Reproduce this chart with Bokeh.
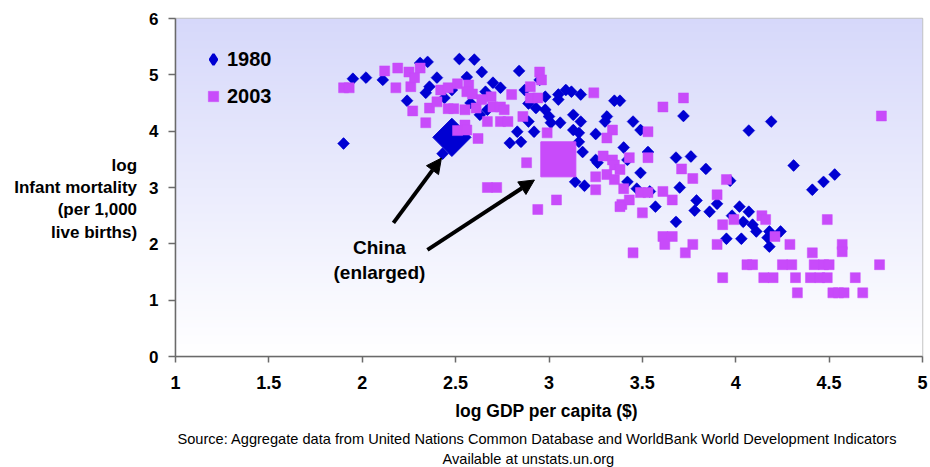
import numpy as np
from bokeh.plotting import figure
from bokeh.models import (Range1d, FixedTicker, Label, Arrow, NormalHead,
                          Legend, LegendItem, Title)
from bokeh.embed import file_html
from bokeh.resources import INLINE

# ---------------- data (log GDP per capita, log infant mortality) ----------------
gdp_1980 = [1.90, 1.95, 2.02, 2.11, 2.24, 2.31, 2.35, 2.40, 2.36, 2.34, 2.44, 2.52,
            2.60, 2.64, 2.56, 2.66, 2.63, 2.67, 2.43, 2.70, 2.74, 2.84, 2.87, 2.89,
            2.93, 2.83, 2.79, 2.85, 2.92, 2.89, 2.95, 2.98, 2.98, 3.00, 3.01, 3.06,
            3.05, 3.05, 3.09, 3.12, 3.17, 3.13, 3.17, 3.13, 3.16, 3.16, 3.18, 3.25,
            3.31, 3.30, 3.35, 3.38, 3.45, 3.49, 3.40, 3.42, 3.49, 3.25, 3.26, 3.14,
            3.19, 3.53, 3.47, 3.54, 3.42, 3.68, 3.76, 3.84, 3.72, 4.07, 4.19, 4.31,
            4.47, 4.53, 4.41, 3.97, 3.70, 3.79, 3.78, 3.86, 3.90, 3.68, 3.95, 4.03,
            4.02, 3.98, 4.07, 4.04, 4.09, 4.11, 4.18, 4.24, 4.17, 4.18, 3.57, 2.48,
            2.58]
imr_1980 = [3.78, 4.93, 4.95, 4.91, 4.54, 5.21, 5.23, 4.95, 4.79, 4.68, 4.59, 5.28,
            5.27, 5.05, 4.96, 4.70, 4.29, 4.38, 3.60, 4.86, 4.77, 5.07, 4.73, 4.49,
            4.41, 3.99, 3.79, 3.81, 3.99, 4.17, 4.91, 4.61, 4.38, 4.26, 4.15, 4.15,
            4.65, 4.56, 4.73, 4.70, 4.65, 4.29, 4.17, 4.02, 3.97, 3.81, 3.63, 3.95,
            4.26, 4.17, 4.54, 4.54, 4.17, 4.02, 3.71, 3.49, 3.26, 3.49, 3.44, 3.10,
            3.03, 3.63, 2.98, 2.93, 3.10, 3.53, 3.55, 3.33, 4.27, 4.01, 4.17, 3.39,
            3.10, 3.23, 2.96, 3.12, 3.00, 2.77, 2.59, 2.57, 2.71, 2.39, 2.09, 2.09,
            2.66, 2.50, 2.57, 2.39, 2.34, 2.22, 2.22, 2.22, 2.11, 1.95, 2.66, 4.73,
            4.50]

gdp_2003 = [1.90, 1.93, 2.12, 2.19, 2.25, 2.31, 2.18, 2.26, 2.28, 2.27, 2.34, 2.36,
            2.40, 2.42, 2.46, 2.51, 2.57, 2.46, 2.49, 2.55, 2.61, 2.56, 2.59, 2.51,
            2.55, 2.56, 2.62, 2.67, 2.69, 2.64, 2.80, 2.86, 2.74, 2.78, 2.70, 2.74,
            2.76, 2.90, 2.95, 2.96, 2.90, 2.94, 2.88, 2.67, 2.72, 2.99, 3.24, 3.34,
            3.31, 3.29, 3.34, 3.35, 3.38, 3.43, 3.53, 3.53, 3.31, 3.25, 3.61, 3.72,
            3.71, 3.77, 3.95, 4.78, 3.04, 2.94, 3.25, 3.40, 3.39, 3.43, 3.49, 3.53,
            3.50, 3.61, 3.66, 3.90, 3.61, 3.66, 3.62, 3.45, 3.73, 3.77, 3.90, 3.93,
            3.99, 4.14, 4.16, 4.21, 4.29, 4.06, 4.09, 3.93, 4.15, 4.20, 4.25, 4.30,
            4.32, 4.33, 4.41, 4.40, 4.42, 4.47, 4.50, 4.45, 4.49, 4.49, 4.57, 4.57,
            4.64, 4.52, 4.55, 4.58, 4.68, 4.77, 3.38, 3.35]
imr_2003 = [4.77, 4.77, 5.07, 5.12, 5.05, 5.12, 4.77, 4.79, 4.95, 4.36, 4.15, 4.41,
            4.52, 4.73, 4.77, 4.84, 4.82, 4.40, 4.40, 4.38, 4.41, 4.70, 4.66, 4.01,
            4.11, 4.02, 3.87, 4.17, 4.61, 4.56, 4.65, 4.26, 4.17, 4.17, 4.43, 4.43,
            4.38, 4.79, 5.05, 4.91, 4.59, 4.59, 3.44, 3.00, 3.00, 3.97, 4.68, 4.02,
            3.88, 3.56, 3.49, 3.40, 3.32, 3.53, 3.53, 3.99, 3.23, 3.19, 4.43, 4.59,
            3.33, 3.16, 3.14, 4.27, 2.78, 2.61, 2.96, 2.98, 2.70, 2.78, 2.91, 2.91,
            2.55, 2.93, 2.78, 2.87, 2.13, 2.13, 1.99, 1.84, 1.84, 1.99, 1.99, 2.34,
            2.43, 2.50, 2.43, 2.13, 1.99, 1.63, 1.63, 1.40, 1.40, 1.40, 1.63, 1.63,
            1.40, 1.13, 1.84, 1.40, 1.63, 1.63, 1.63, 1.40, 1.40, 2.43, 1.99, 1.86,
            1.40, 1.13, 1.13, 1.13, 1.13, 1.63, 2.66, 3.14]

china_gdp_1980 = [2.48]
china_imr_1980 = [3.89]
china_gdp_2003 = [3.05]
china_imr_2003 = [3.50]

x_ticks = [1, 1.5, 2, 2.5, 3, 3.5, 4, 4.5, 5]
x_tick_labels = ["1", "1.5", "2", "2.5", "3", "3.5", "4", "4.5", "5"]
y_ticks = [0, 1, 2, 3, 4, 5, 6]
y_tick_labels = ["0", "1", "2", "3", "4", "5", "6"]
series_labels = ["1980", "2003"]

BLUE = "#0000D2"
MAGENTA = "#C84BFA"
FONT = "Liberation Sans"

W, H = 928, 467
p = figure(width=W, height=H, x_range=Range1d(1, 5), y_range=Range1d(0, 6),
           output_backend="svg", toolbar_location=None,
           min_border_left=175, min_border_right=W - 922, min_border_top=18,
           min_border_bottom=H - 357)
p.grid.visible = False
p.background_fill_color = "white"
p.border_fill_color = "white"
p.outline_line_color = "#c4c4c4"
p.outline_line_width = 1.5

# vertical gradient background (lavender -> white)
n = 256
t = np.linspace(0, 1, n)
img = np.empty((n, 1), dtype=np.uint32)
v = img.view(dtype=np.uint8).reshape((n, 1, 4))
v[:, 0, 0] = np.round(255 + (214 - 255) * t).astype(np.uint8)
v[:, 0, 1] = np.round(255 + (216 - 255) * t).astype(np.uint8)
v[:, 0, 2] = np.round(255 + (250 - 255) * t).astype(np.uint8)
v[:, 0, 3] = 255
p.image_rgba(image=[img], x=1, y=0, dw=4, dh=6)

# axes
for ax in (p.xaxis, p.yaxis):
    ax.axis_line_color = "#6a6a6a"
    ax.axis_line_width = 1.5
    ax.major_tick_line_color = "#6a6a6a"
    ax.major_tick_line_width = 1.5
    ax.major_tick_in = 0
    ax.minor_tick_line_color = None
    ax.major_label_text_font = FONT
    ax.major_label_text_font_style = "bold"
    ax.major_label_text_color = "black"
p.xaxis.ticker = FixedTicker(ticks=x_ticks)
p.xaxis.major_label_overrides = {t_: l_ for t_, l_ in zip(x_ticks, x_tick_labels)}
p.xaxis.major_tick_out = 6
p.xaxis.major_label_standoff = 13
p.xaxis.major_label_text_font_size = "18px"
p.yaxis.ticker = FixedTicker(ticks=y_ticks)
p.yaxis.major_label_overrides = {t_: l_ for t_, l_ in zip(y_ticks, y_tick_labels)}
p.yaxis.major_tick_out = 7
p.yaxis.major_label_standoff = 10
p.yaxis.major_label_text_font_size = "17px"

# y-axis title: horizontal, four lines (blank first line lowers the block)
p.yaxis.axis_label = "\u00a0\nlog\nInfant mortality\n(per 1,000\nlive births)"
p.yaxis.axis_label_orientation = "horizontal"
p.yaxis.axis_label_text_font = FONT
p.yaxis.axis_label_text_font_style = "bold"
p.yaxis.axis_label_text_font_size = "17px"
p.yaxis.axis_label_text_color = "black"
p.yaxis.axis_label_text_align = "center"
p.yaxis.axis_label_text_line_height = 1.18
p.yaxis.axis_label_standoff = 9

# points (1980 keyed by a diamond drawn underneath the rotated squares)
key80 = p.scatter(gdp_1980, imr_1980, marker="diamond", size=8.5,
                  fill_color=BLUE, line_color=BLUE, line_width=2.5)
p.scatter(gdp_1980, imr_1980, marker="square", angle=np.pi / 4, size=8.4,
          fill_color=BLUE, line_color=BLUE, line_width=0.5)
p.scatter(china_gdp_1980, china_imr_1980, marker="square", angle=np.pi / 4, size=27,
          fill_color=BLUE, line_color=BLUE)
r03 = p.scatter(gdp_2003, imr_2003, marker="square", size=10,
                fill_color=MAGENTA, line_color=MAGENTA, line_width=0.5)
p.scatter(china_gdp_2003, china_imr_2003, marker="square", size=35,
          fill_color=MAGENTA, line_color=MAGENTA)

legend = Legend(items=[LegendItem(label=series_labels[0], renderers=[key80]),
                       LegendItem(label=series_labels[1], renderers=[r03])],
                location=(25, 247), orientation="vertical",
                background_fill_alpha=0, border_line_alpha=0,
                padding=0, margin=0, spacing=11, glyph_width=26, glyph_height=26,
                label_standoff=1, label_text_font=FONT, label_text_font_style="bold",
                label_text_font_size="20px", label_text_color="black", label_height=26)
p.add_layout(legend)

# China annotation
for xs, ys, xe, ye in [(2.167, 2.372, 2.424, 3.522), (2.349, 1.894, 2.922, 3.133)]:
    p.add_layout(Arrow(end=NormalHead(size=15, fill_color="black", line_color="black"),
                       x_start=xs, y_start=ys, x_end=xe, y_end=ye,
                       line_color="black", line_width=4))
for txt, yy in [("China", 1.929), ("(enlarged)", 1.487)]:
    p.add_layout(Label(x=2.092, y=yy, text=txt, text_align="center",
                       text_baseline="middle", text_font=FONT, text_color="black",
                       text_font_style="bold", text_font_size="19px"))

# x-axis title and source note (below the axis)
p.add_layout(Title(text="log GDP per capita  ($)", align="center",
                   standoff=15, text_font=FONT, text_font_style="bold",
                   text_font_size="17.5px", text_color="black"), "below")
p.add_layout(Title(text="Source: Aggregate data from United Nations Common Database and WorldBank World Development Indicators",
                   align="left", offset=2, standoff=1, text_font=FONT,
                   text_font_style="normal", text_font_size="14.6px",
                   text_color="black"), "below")
p.add_layout(Title(text="Available at unstats.un.org", align="left", offset=267,
                   standoff=2, text_font=FONT, text_font_style="normal",
                   text_font_size="14.6px", text_color="black"), "below")

open("out.html", "w").write(file_html(p, INLINE))
